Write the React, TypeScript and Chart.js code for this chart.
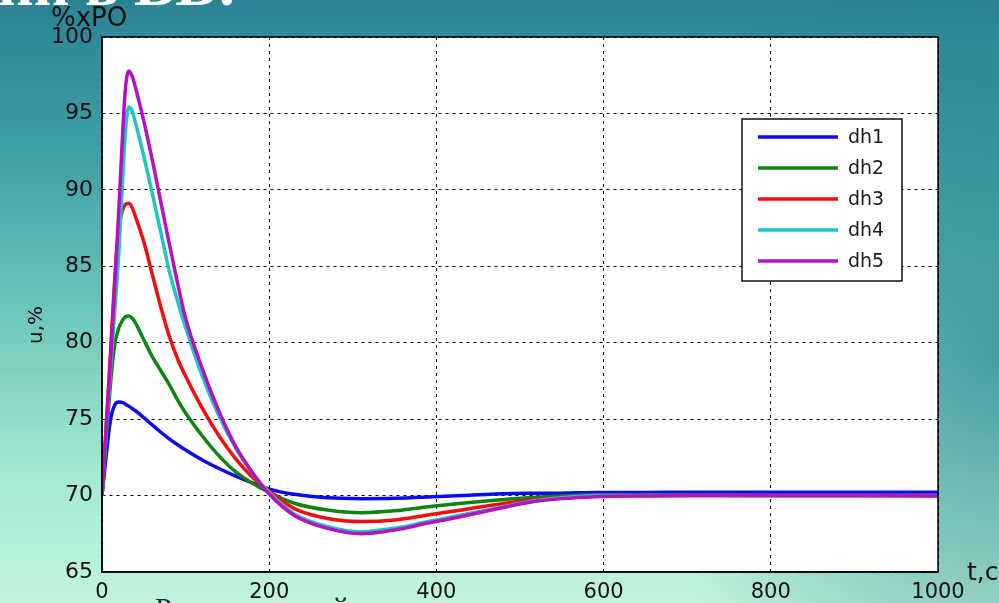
import React, { useEffect, useRef } from "react";
import { Chart, registerables } from "chart.js";

Chart.register(...registerables);

// Time axis, seconds
const timeSec = [
  0, 5, 10, 15, 20, 25, 28, 32, 36, 40, 50, 60, 70, 80, 90, 100, 120, 140, 160, 180,
  200, 230, 270, 310, 350, 390, 430, 470, 510, 550, 590, 650, 700, 800, 900, 1000,
];

// Control signal u, % for each disturbance step
const dh1 = [
  70, 72.6, 74.9, 75.9, 76.12, 76.08, 75.98, 75.85, 75.7, 75.55, 75.1, 74.62, 74.16, 73.73, 73.34, 72.98, 72.33, 71.77, 71.27, 70.83,
  70.42, 70.08, 69.85, 69.8, 69.82, 69.9, 70.0, 70.1, 70.15, 70.16, 70.2, 70.2, 70.22, 70.22, 70.22, 70.22,
];
const dh2 = [
  70, 73.6, 77.2, 79.8, 80.95, 81.5, 81.68, 81.75, 81.62, 81.3, 80.2, 79.1, 78.2, 77.3, 76.3, 75.4, 73.9, 72.6, 71.55, 70.8,
  70.2, 69.5, 69.05, 68.88, 69.0, 69.27, 69.5, 69.7, 69.86, 69.97, 70.03, 70.04, 70.03, 70.0, 70.0, 70.0,
];
const dh3 = [
  70, 74.6, 79.2, 84.0, 87.4, 88.75, 89.05, 89.12, 88.85, 88.25, 86.6, 84.5, 82.4, 80.5, 79.0, 77.8, 75.7, 73.9, 72.4, 71.2,
  70.3, 69.15, 68.5, 68.3, 68.4, 68.73, 69.06, 69.4, 69.7, 69.88, 70.0, 70.0, 70.0, 70.0, 70.0, 70.0,
];
const dh4 = [
  70, 74.1, 78.1, 81.9, 85.8, 91.0, 93.8, 95.42, 95.15, 94.4, 92.2, 89.8, 87.3, 84.8, 82.8, 81.0, 77.8, 75.2, 73.1, 71.45,
  70.2, 68.8, 67.97, 67.64, 67.87, 68.3, 68.73, 69.15, 69.6, 69.85, 70.0, 70.0, 70.0, 70.0, 70.0, 70.0,
];
const dh5 = [
  70, 74.4, 78.7, 83.5, 88.6, 94.0, 96.6, 97.78, 97.45, 96.7, 94.5, 92.0, 89.3, 86.6, 84.0, 81.6, 78.3, 75.5, 73.2, 71.5,
  70.1, 68.7, 67.85, 67.5, 67.75, 68.2, 68.63, 69.1, 69.55, 69.8, 69.93, 69.98, 70.0, 70.0, 70.0, 69.98,
];

const seriesLabels = ["dh1", "dh2", "dh3", "dh4", "dh5"];
const seriesValues = [dh1, dh2, dh3, dh4, dh5];
const seriesColors = ["#0b0bf2", "#108410", "#f50c0c", "#20c4c4", "#b412c0"];

const xMin = 0;
const xMax = 1000;
const xStep = 200;
const yMin = 65;
const yMax = 100;
const yStep = 5;

const SANS = "'DejaVu Sans', sans-serif";
const SERIF = "'Liberation Serif', 'DejaVu Serif', serif";

// Paints the white plot area, the frame, the legend box and the free-standing labels
const decorPlugin = {
  id: "decor",
  beforeDraw(chart: any) {
    const { ctx, chartArea: a } = chart;
    ctx.save();
    ctx.fillStyle = "#ffffff";
    ctx.fillRect(a.left, a.top, a.right - a.left, a.bottom - a.top);
    ctx.restore();
  },
  afterDraw(chart: any) {
    const { ctx, chartArea: a } = chart;
    ctx.save();

    // plot frame
    ctx.strokeStyle = "#000";
    ctx.lineWidth = 1.5;
    ctx.strokeRect(a.left, a.top, a.right - a.left, a.bottom - a.top);

    // legend box
    const bw = 160;
    const bh = 162;
    const bx = a.right - 196;
    const by = a.top + 82;
    ctx.fillStyle = "#fff";
    ctx.fillRect(bx, by, bw, bh);
    ctx.lineWidth = 1.5;
    ctx.strokeStyle = "#111";
    ctx.strokeRect(bx, by, bw, bh);
    ctx.font = `19px ${SANS}`;
    ctx.textBaseline = "middle";
    ctx.textAlign = "left";
    chart.data.datasets.forEach((ds: any, i: number) => {
      const y = by + 18 + i * 31;
      ctx.strokeStyle = ds.borderColor;
      ctx.lineWidth = 3.5;
      ctx.beginPath();
      ctx.moveTo(bx + 16, y);
      ctx.lineTo(bx + 96, y);
      ctx.stroke();
      ctx.fillStyle = "#1a1a1a";
      ctx.fillText(ds.label, bx + 106, y + 1);
    });

    // axis captions
    ctx.fillStyle = "#111";
    ctx.font = `26px ${SANS}`;
    ctx.textBaseline = "alphabetic";
    ctx.fillText("%xPO", 51, 26);
    ctx.font = `25px ${SANS}`;
    ctx.fillText("t,c", a.right + 29, a.bottom + 8);
    ctx.save();
    ctx.translate(42, 325);
    ctx.rotate(-Math.PI / 2);
    ctx.textAlign = "center";
    ctx.font = `20px ${SANS}`;
    ctx.fillText("u,%", 0, 0);
    ctx.restore();

    // slide heading and caption, clipped by the page edges
    ctx.fillStyle = "#ffffff";
    ctx.font = `bold 62px ${SERIF}`;
    ctx.fillText("ии в ВВ:", -2, 5);
    ctx.fillStyle = "#18282c";
    ctx.font = `30px ${SERIF}`;
    ctx.fillText("Регулирующий", 155, 618);

    ctx.restore();
  },
};

export default function App() {
  const canvasRef = useRef<HTMLCanvasElement | null>(null);

  useEffect(() => {
    if (!canvasRef.current) return;
    const datasets = seriesLabels.map((label, i) => ({
      label,
      data: timeSec.map((t, k) => ({ x: t, y: seriesValues[i][k] })),
      borderColor: seriesColors[i],
      backgroundColor: seriesColors[i],
      borderWidth: 3.5,
      pointRadius: 0,
      cubicInterpolationMode: "monotone" as const,
      fill: false,
      order: seriesLabels.length - i,
    }));

    const chart = new Chart(canvasRef.current, {
      type: "line",
      data: { datasets },
      options: {
        animation: false,
        responsive: false,
        devicePixelRatio: 1,
        layout: { padding: { left: 0, right: 61, top: 37, bottom: 0 } },
        plugins: {
          legend: { display: false },
          tooltip: { enabled: false },
        },
        scales: {
          x: {
            type: "linear",
            min: xMin,
            max: xMax,
            afterFit: (s: any) => {
              s.height = 31;
            },
            ticks: {
              stepSize: xStep,
              autoSkip: false,
              maxRotation: 0,
              padding: 8,
              color: "#111",
              font: { family: SANS, size: 21 },
              callback: (v: any) => String(v),
            },
            grid: { color: "#000", lineWidth: 1, drawTicks: false },
            border: { display: true, color: "#000", width: 1.5, dash: [3, 4] },
          },
          y: {
            min: yMin,
            max: yMax,
            afterFit: (s: any) => {
              s.width = 102;
            },
            ticks: {
              stepSize: yStep,
              padding: 9,
              color: "#111",
              font: { family: SANS, size: 22 },
              callback: (v: any) => String(v),
            },
            grid: { color: "#000", lineWidth: 1, drawTicks: false },
            border: { display: true, color: "#000", width: 1.5, dash: [3, 4] },
          },
        },
      },
      plugins: [decorPlugin],
    });
    return () => chart.destroy();
  }, []);

  return (
    <div
      style={{
        position: "fixed",
        left: 0,
        top: 0,
        width: 999,
        height: 603,
        overflow: "hidden",
        background:
          "radial-gradient(ellipse 35% 80% at 100% 60%, rgba(36,126,142,0.6) 0%, rgba(36,126,142,0) 100%), linear-gradient(to bottom, #2b8394 0%, #3f9ea6 25%, #73cbbd 55%, #a7ead4 80%, #c2f4dc 100%)",
      }}
    >
      <canvas ref={canvasRef} width={999} height={603} style={{ display: "block" }} />
    </div>
  );
}
